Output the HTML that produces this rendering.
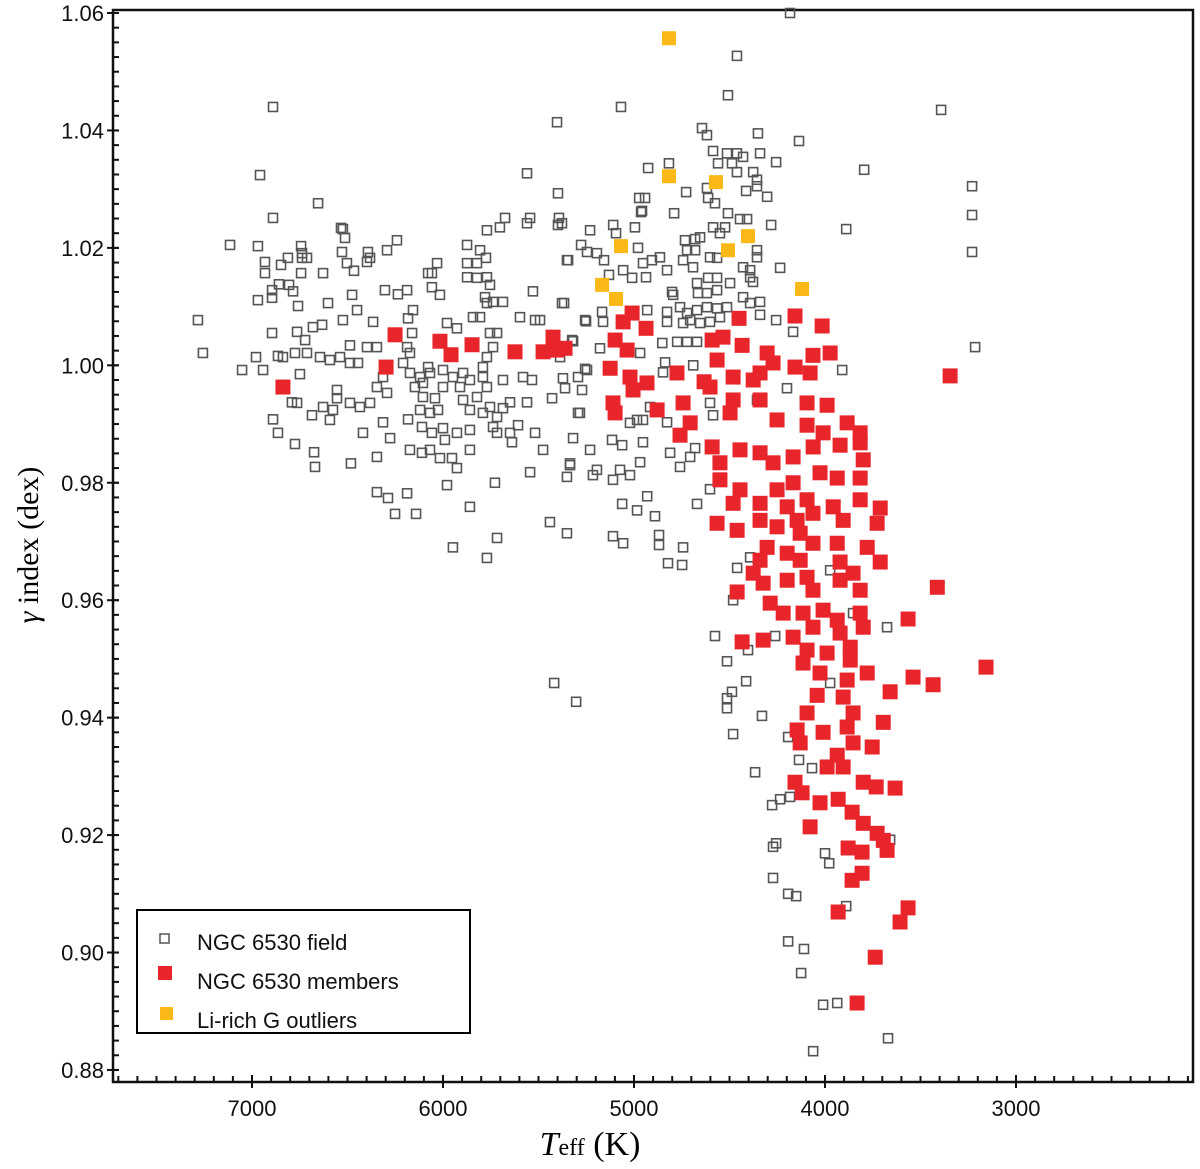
<!DOCTYPE html>
<html><head><meta charset="utf-8"><style>
html,body{margin:0;padding:0;background:#fff;}
svg{display:block;}
text{font-family:"Liberation Sans",sans-serif;}
</style></head><body>
<svg id="chart" width="1200" height="1169" viewBox="0 0 1200 1169" xmlns="http://www.w3.org/2000/svg">
<g id="axes"></g>
<g id="field-layer"></g>
<g id="member-layer"></g>
<g id="li-layer"></g>
<g id="legend">
  <rect x="137" y="910" width="333" height="123" fill="#fff" stroke="#000" stroke-width="2"/>
  <rect x="160" y="934" width="9" height="9" fill="none" stroke="#555" stroke-width="1.5"/>
  <text x="197" y="950" font-size="22" fill="#111">NGC 6530 field</text>
  <rect x="158" y="966" width="14" height="14" fill="#e8252a"/>
  <text x="197" y="989" font-size="22" fill="#111">NGC 6530 members</text>
  <rect x="160" y="1007" width="13" height="13" fill="#fbb917"/>
  <text x="197" y="1028" font-size="22" fill="#111">Li-rich G outliers</text>
</g>
<text transform="translate(38,545) rotate(-90)" text-anchor="middle" font-size="30" style="font-family:'Liberation Serif',serif"><tspan font-style="italic">γ</tspan> index (dex)</text>
<text x="590" y="1155" text-anchor="middle" font-size="34" style="font-family:'Liberation Serif',serif"><tspan font-style="italic">T</tspan><tspan font-size="24">eff</tspan> (K)</text>
</svg>
<script>
const yTicks=[0.88,0.90,0.92,0.94,0.96,0.98,1.00,1.02,1.04,1.06];
const xTicks=[7000,6000,5000,4000,3000];
const liT=[4817,4817,4571,4403,4508,5068,5167,5094,4120];
const liG=[1.0557,1.0322,1.0312,1.0220,1.0196,1.0203,1.0137,1.0113,1.0130];
const fieldT=[6890,6958,6654,6890,6743,7115,6932,6848,6812,6738,6743,6806,6969,6534,6513,6382,6293,6503,6466,6304,6236,6188,6031,6058,5874,5874,5775,5770,5806,5675,5544,5403,5560,5398,5393,5345,5230,5277,5068,5157,5057,4995,4942,4963,
7283,7257,7052,6942,6979,6895,6969,6932,6895,6895,6859,6785,6759,6738,6712,6628,6602,6524,6529,6393,6398,6241,6476,6450,6366,6524,6681,6633,6764,6722,6864,6838,6775,6712,6644,6592,6539,6487,6445,6398,6487,6346,6749,6791,6764,6890,6864,6775,6686,6628,6576,6592,6555,6487,6435,6382,6555,6419,6670,6675,6482,6314,6346,6277,6314,6346,6293,6183,6173,6110,6346,6288,6188,6251,6141,6209,6173,6120,6078,6173,6147,6105,6068,6188,6162,6183,6157,6058,6016,6078,5979,5927,6000,5948,5895,6000,5911,5859,6105,6042,6120,6068,6026,6110,6058,6000,5927,5990,6068,6016,5953,5927,5979,5859,5859,5895,5859,5822,5791,5791,5770,5738,5754,5717,5843,5806,5770,5738,5686,5780,5874,5822,5770,5754,5822,5770,5791,5754,5717,5686,5738,5717,5649,5607,5639,5649,5686,5859,5728,5717,5948,5770,5518,5560,5581,5534,5476,5429,5372,5361,5319,5283,5272,5324,5230,5246,5544,5335,5351,5215,5440,5351,5597,5518,5492,5377,5529,5256,5351,5246,5194,5560,5398,5702,
4183,4461,4508,3392,4644,4618,4351,4136,4586,4513,4461,4429,4340,4256,4817,4926,4560,4487,4461,4376,4356,4356,3795,3230,3230,3230,4727,4973,4958,4790,4618,4612,4576,4508,4413,4303,4282,3889,5109,5094,5377,4586,4523,4445,4408,4550,4733,4680,4654,4722,4680,4602,4565,4356,4356,4429,4392,4392,4377,4235,4979,4953,4906,4864,4827,4743,4691,5010,4937,5131,4801,4795,4670,4612,4565,4497,4665,4618,4565,4429,4392,4340,5366,5167,5251,4931,4827,4759,4722,4670,4618,4565,4513,4706,4654,4602,4550,4827,4743,4340,4256,4167,4852,4774,4722,4670,5178,4968,4837,4848,5319,5256,5293,4690,3910,3214,5162,5387,
5293,5335,5194,5115,5062,4953,4968,5073,5021,5110,5021,4984,4953,4916,4827,4811,4759,4706,4680,4602,4586,4356,4199,4931,5062,4984,4890,4670,4602,5110,5057,4869,4869,4743,4822,4748,4460,4392,3973,4481,3853,3675,4576,4261,4403,4513,4413,4487,4513,4513,4330,4481,5303,3973,5418,
4193,4136,4366,4068,4277,4235,4183,4256,4272,4000,3978,4272,4193,4151,3889,4193,4110,4125,4010,3936,3670,4062,3659];
const fieldG=[1.0440,1.0324,1.0276,1.0251,1.0203,1.0205,1.0176,1.0171,1.0183,1.0183,1.0157,1.0137,1.0111,1.0234,1.0217,1.0183,1.0196,1.0174,1.0161,1.0128,1.0121,1.0128,1.0174,1.0157,1.0205,1.0174,1.0183,1.0230,1.0196,1.0251,1.0251,1.0414,1.0327,1.0293,1.0251,1.0179,1.0230,1.0205,1.0440,1.0179,1.0162,1.0235,1.0285,1.0261,
1.0077,1.0021,0.9992,0.9992,1.0014,1.0055,1.0203,1.0157,1.0128,1.0115,1.0138,1.0126,1.0101,1.0191,1.0183,1.0157,1.0106,1.0232,1.0193,1.0193,1.0176,1.0213,1.0120,1.0094,1.0074,1.0077,1.0065,1.0069,1.0057,1.0043,1.0016,1.0014,1.0021,1.0021,1.0014,1.0009,1.0014,1.0004,1.0004,1.0031,1.0034,1.0031,0.9985,0.9937,0.9936,0.9908,0.9885,0.9866,0.9915,0.9929,0.9924,0.9907,0.9944,0.9936,0.9929,0.9936,0.9958,0.9885,0.9827,0.9852,0.9833,0.9903,0.9844,0.9876,0.9980,0.9963,0.9953,0.9908,0.9856,0.9851,0.9784,0.9774,0.9782,0.9747,0.9747,1.0004,0.9987,0.9980,0.9997,1.0021,0.9963,0.9970,0.9987,1.0031,1.0055,1.0080,1.0094,1.0133,1.0120,1.0157,1.0072,1.0063,0.9992,0.9980,0.9987,0.9963,0.9963,0.9975,0.9946,0.9944,0.9924,0.9919,0.9924,0.9895,0.9885,0.9893,0.9885,0.9873,0.9856,0.9842,0.9842,0.9825,0.9796,0.9890,0.9856,0.9941,0.9924,0.9946,0.9980,0.9997,1.0014,1.0031,1.0055,1.0055,1.0082,1.0082,1.0106,1.0108,1.0108,1.0116,1.0150,1.0149,1.0150,1.0137,1.0174,0.9963,0.9919,0.9929,0.9912,0.9927,0.9895,0.9885,0.9885,0.9898,0.9869,0.9937,0.9975,0.9759,0.9800,0.9706,0.9690,0.9672,0.9885,0.9937,0.9980,0.9975,0.9856,0.9944,0.9978,0.9961,0.9876,0.9919,0.9958,1.0043,0.9856,0.9992,0.9818,0.9830,0.9810,0.9813,0.9733,0.9714,1.0082,1.0077,1.0077,1.0106,1.0126,1.0077,1.0179,1.0193,1.0191,1.0242,1.0239,1.0235,
1.0600,1.0527,1.0460,1.0435,1.0404,1.0392,1.0395,1.0382,1.0365,1.0361,1.0361,1.0355,1.0361,1.0346,1.0344,1.0336,1.0344,1.0344,1.0329,1.0329,1.0316,1.0305,1.0333,1.0305,1.0256,1.0193,1.0295,1.0285,1.0263,1.0259,1.0302,1.0285,1.0276,1.0259,1.0297,1.0287,1.0239,1.0232,1.0239,1.0225,1.0242,1.0235,1.0235,1.0249,1.0249,1.0225,1.0213,1.0215,1.0218,1.0196,1.0196,1.0184,1.0183,1.0196,1.0184,1.0167,1.0162,1.0150,1.0142,1.0166,1.0200,1.0174,1.0179,1.0184,1.0162,1.0179,1.0167,1.0149,1.0150,1.0154,1.0125,1.0120,1.0140,1.0149,1.0149,1.0140,1.0123,1.0123,1.0128,1.0116,1.0106,1.0108,1.0106,1.0091,1.0075,1.0094,1.0091,1.0099,1.0089,1.0094,1.0099,1.0097,1.0099,1.0077,1.0072,1.0074,1.0082,1.0074,1.0072,1.0086,1.0077,1.0057,1.0038,1.0040,1.0040,1.0040,1.0029,1.0021,1.0005,0.9988,1.0041,0.9994,0.9980,1.0000,0.9992,1.0031,1.0074,1.0014,
0.9919,0.9833,0.9822,0.9873,0.9864,0.9869,0.9835,0.9822,0.9813,0.9805,0.9902,0.9907,0.9907,0.9929,0.9903,0.9851,0.9827,0.9844,0.9859,0.9936,0.9915,0.9941,0.9961,0.9777,0.9764,0.9753,0.9743,0.9764,0.9789,0.9709,0.9697,0.9711,0.9694,0.9690,0.9663,0.9660,0.9655,0.9673,0.9651,0.9600,0.9578,0.9554,0.9539,0.9539,0.9515,0.9496,0.9462,0.9444,0.9433,0.9416,0.9403,0.9372,0.9427,0.9459,0.9459,
0.9367,0.9328,0.9307,0.9314,0.9251,0.9261,0.9265,0.9186,0.9180,0.9169,0.9152,0.9127,0.9100,0.9096,0.9079,0.9019,0.9006,0.8965,0.8911,0.8914,0.8854,0.8832,0.9192];
const memberT=[6838,6251,6298,6016,5958,5848,5623,5424,5403,5476,
5010,5057,4937,5099,5036,5125,5021,4932,4775,4591,4534,4450,4434,4565,4303,4272,4340,4157,4015,4063,3973,4157,4078,3345,5361,4633,4481,4376,
5110,5099,5005,4879,4743,4759,4706,4602,4481,4497,4340,4251,4094,3989,4094,4010,3884,3816,3816,3921,4591,4550,4445,4340,4272,4167,4062,4026,3936,3816,3800,4550,4445,4481,4340,4251,4167,4198,4094,4063,3957,3816,3711,3727,3905,4565,4460,4340,4251,4146,4130,4063,3936,4303,4340,4198,4130,3779,3711,3921,4376,4324,4198,4094,4063,3921,3853,3816,3412,4460,4287,4219,4115,4010,3936,3816,3800,4063,4167,3921,3565,4434,4324,4094,3989,3868,3868,4115,4026,3884,3779,3539,3434,3659,3157,4041,3905,3853,4094,3884,3695,4146,4010,
4130,3853,3753,3936,3989,3905,4157,4120,4026,3931,3800,3732,3633,3858,3800,4078,3727,3695,3879,3806,3675,3806,3858,3931,3565,3607,3737,3832];
const memberG=[0.9963,1.0052,0.9997,1.0041,1.0018,1.0035,1.0023,1.0048,1.0026,1.0023,
1.0089,1.0074,1.0063,1.0043,1.0026,0.9995,0.9980,0.9970,0.9987,1.0043,1.0048,1.0080,1.0034,1.0009,1.0021,1.0004,0.9987,1.0084,1.0067,1.0017,1.0021,0.9997,0.9987,0.9982,1.0029,0.9972,0.9980,0.9975,
0.9936,0.9919,0.9958,0.9924,0.9936,0.9881,0.9902,0.9963,0.9941,0.9919,0.9941,0.9907,0.9936,0.9932,0.9898,0.9885,0.9902,0.9885,0.9868,0.9864,0.9861,0.9834,0.9856,0.9851,0.9834,0.9844,0.9861,0.9817,0.9808,0.9808,0.9839,0.9805,0.9788,0.9765,0.9765,0.9788,0.9800,0.9759,0.9771,0.9748,0.9759,0.9771,0.9757,0.9731,0.9736,0.9731,0.9719,0.9736,0.9725,0.9736,0.9714,0.9697,0.9697,0.9690,0.9668,0.9680,0.9668,0.9690,0.9665,0.9665,0.9646,0.9629,0.9634,0.9639,0.9617,0.9634,0.9646,0.9617,0.9622,0.9614,0.9595,0.9578,0.9578,0.9583,0.9566,0.9578,0.9554,0.9554,0.9537,0.9544,0.9568,0.9529,0.9532,0.9515,0.9510,0.9520,0.9498,0.9493,0.9476,0.9464,0.9476,0.9469,0.9456,0.9444,0.9486,0.9438,0.9435,0.9408,0.9408,0.9384,0.9392,0.9379,0.9375,
0.9357,0.9357,0.9350,0.9336,0.9316,0.9316,0.9290,0.9272,0.9255,0.9261,0.9290,0.9282,0.9280,0.9239,0.9220,0.9214,0.9203,0.9191,0.9178,0.9171,0.9174,0.9135,0.9123,0.9069,0.9076,0.9052,0.8992,0.8914];

const NS='http://www.w3.org/2000/svg';
const X0=113,X1=1193,Y0=10,Y1=1082;
function xScale(t){return 252+(7000-t)*0.191;}
function yScale(g){return 13+(1.06-g)*5872;}
function mk(tag,attrs,parent){const e=document.createElementNS(NS,tag);for(const k in attrs)e.setAttribute(k,attrs[k]);parent.appendChild(e);return e;}
const axes=document.getElementById('axes');
const frame=mk('rect',{x:X0,y:Y0,width:X1-X0,height:Y1-Y0,fill:'none',stroke:'#111','stroke-width':2.5},axes);


// y minor ticks
for(let i=0;i<=72;i++){const g=0.88+i*0.0025;const y=yScale(g);if(y<Y0||y>Y1)continue;
 const t=mk('line',{x1:X0,x2:X0+6,y1:y,y2:y,stroke:'#111','stroke-width':2},axes);
 
 }
yTicks.forEach(v=>{const y=yScale(v);
 const t=mk('line',{x1:X0-6,x2:X0+6,y1:y,y2:y,stroke:'#111','stroke-width':2},axes);
 
 
 const l=mk('text',{x:X0-9,y:y+8,'text-anchor':'end','font-size':22,fill:'#111'},axes);
 l.textContent=v.toFixed(2);
 
 });
// x minor ticks
for(let T=2100;T<=7700;T+=100){const x=xScale(T);if(x<X0||x>X1)continue;
 const t=mk('line',{x1:x,x2:x,y1:Y1-6,y2:Y1,stroke:'#111','stroke-width':2},axes);
 
 }
xTicks.forEach(v=>{const x=xScale(v);
 const t=mk('line',{x1:x,x2:x,y1:Y1-7,y2:Y1+6,stroke:'#111','stroke-width':2},axes);
 
 
 const l=mk('text',{x:x,y:Y1+34,'text-anchor':'middle','font-size':22,fill:'#111'},axes);
 l.textContent=String(v);
 
 });
const fl=document.getElementById('field-layer');
fieldT.forEach((t,i)=>{const x=xScale(t),y=yScale(fieldG[i]);
 const r=mk('rect',{x:x-4.5,y:y-4.5,width:9,height:9,fill:'none',stroke:'#555','stroke-width':1.6},fl);
 
 });
const ml=document.getElementById('member-layer');
memberT.forEach((t,i)=>{const x=xScale(t),y=yScale(memberG[i]);
 const r=mk('rect',{x:x-7.5,y:y-7.5,width:15,height:15,fill:'#e8252a'},ml);
 
 });
const ll=document.getElementById('li-layer');
liT.forEach((t,i)=>{const x=xScale(t),y=yScale(liG[i]);
 const r=mk('rect',{x:x-7,y:y-7,width:14,height:14,fill:'#fbb917'},ll);
 
 });
</script>
</body></html>
